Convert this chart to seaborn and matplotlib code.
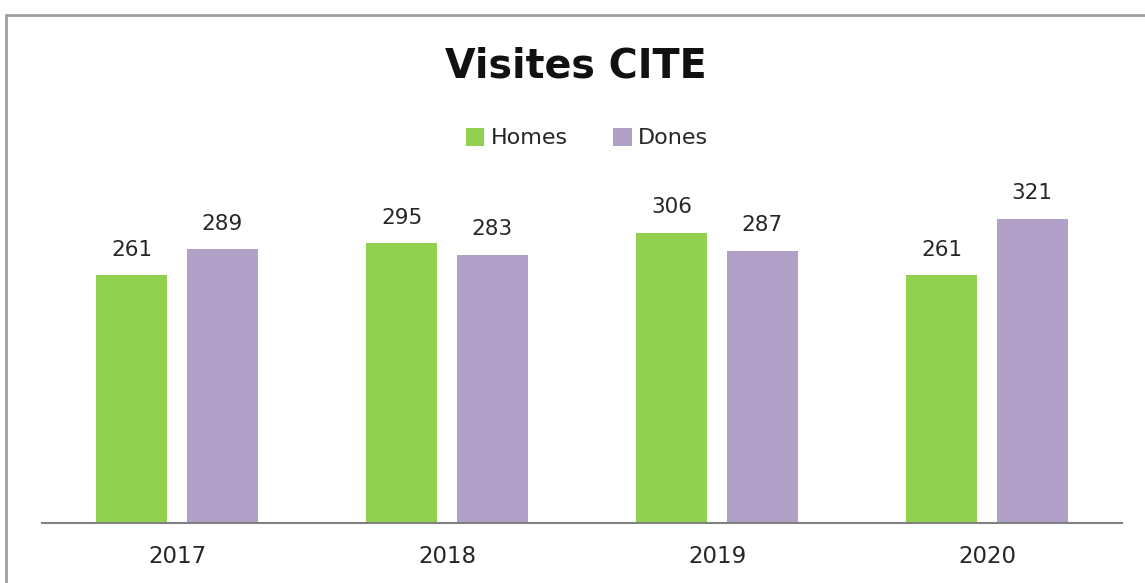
import numpy as np
import pandas as pd
import matplotlib.pyplot as plt
import seaborn as sns
from matplotlib.lines import Line2D
from matplotlib.patches import Patch

# Dades
anys = ["2017", "2018", "2019", "2020"]
homes = [261, 295, 306, 261]
dones = [289, 283, 287, 321]
series = ["Homes", "Dones"]
colors = ["#92D050", "#B1A0C7"]

df = pd.DataFrame({
    "Any": anys * 2,
    "Visites": homes + dones,
    "Sexe": [series[0]] * len(anys) + [series[1]] * len(anys),
})

sns.set_theme(style="white")
plt.rcParams["font.family"] = ["DejaVu Sans"]

fig = plt.figure(figsize=(11.45, 5.83), dpi=100)
ax = fig.add_axes([42 / 1145, 60 / 583, 1080 / 1145, 332 / 583])

sns.barplot(data=df, x="Any", y="Visites", hue="Sexe", palette=colors,
            saturation=1, width=0.67, gap=0.215, ax=ax, legend=False,
            linewidth=0)

for c in ax.containers:
    ax.bar_label(c, padding=11, fontsize=15.5, color="#262626")

ax.set_ylim(0, 350)
ax.set_xlim(-0.5, 3.5)
ax.set_xlabel("")
ax.set_ylabel("")
ax.set_yticks([])
ax.tick_params(axis="x", length=0, labelsize=16.5, pad=16, colors="#262626")
for s in ["top", "left", "right"]:
    ax.spines[s].set_visible(False)
ax.spines["bottom"].set_color("#808080")
ax.spines["bottom"].set_linewidth(1.5)

fig.text(576 / 1145, 1 - 66 / 583, "Visites CITE", ha="center", va="center",
         fontsize=28.5, fontweight="bold", color="#111111")

handles = [Patch(facecolor=c, edgecolor="none") for c in colors]
fig.legend(handles, series, loc="center", bbox_to_anchor=(587 / 1145, 1 - 138 / 583),
           ncol=2, frameon=False, fontsize=16, handlelength=0.85, handleheight=0.9,
           handletextpad=0.3, columnspacing=2.0, labelcolor="#262626")

# marc
fig.add_artist(Line2D([6 / 1145, 1.0], [1 - 15 / 583] * 2, color="#a0a0a0", lw=2,
                      transform=fig.transFigure))
fig.add_artist(Line2D([6 / 1145] * 2, [0, 1 - 15 / 583], color="#a0a0a0", lw=2,
                      transform=fig.transFigure))

fig.savefig("out.png", dpi=100)
